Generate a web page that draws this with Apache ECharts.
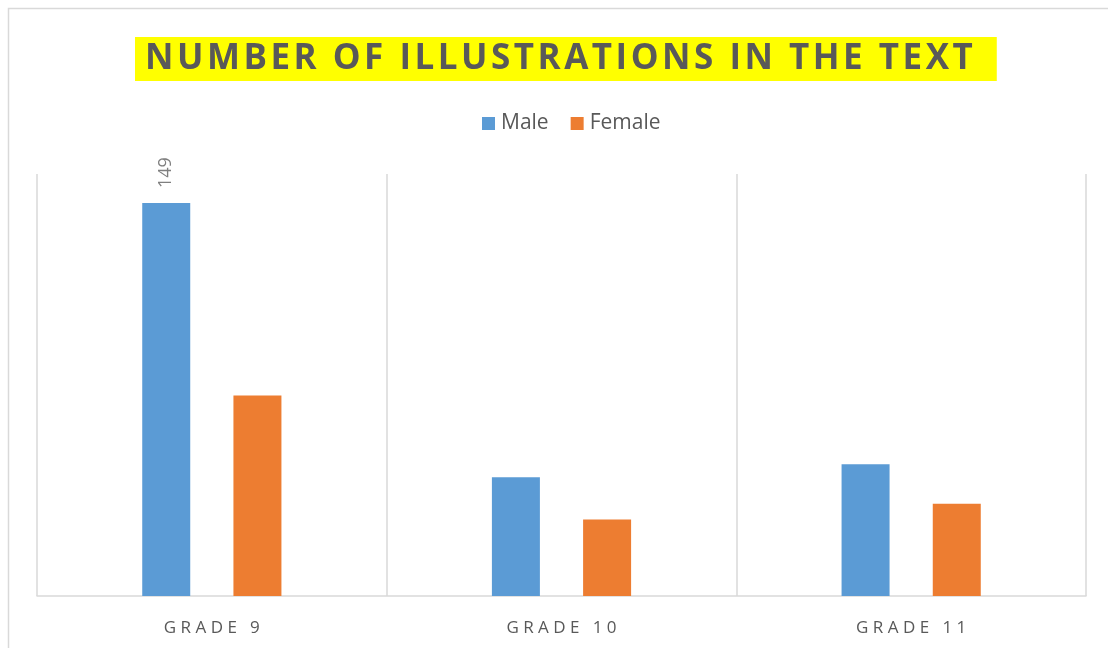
<!DOCTYPE html>
<html>
<head>
<meta charset="utf-8">
<title>Number of illustrations in the text</title>
<script src="https://cdn.jsdelivr.net/npm/echarts@6/dist/echarts.min.js"></script>
<style>
	html, body { margin: 0; padding: 0; background: #fff; }
	#chart { width: 1108px; height: 648px; }
</style>
</head>
<body>
<div id="chart"></div>
<script>
var titleText = 'NUMBER OF ILLUSTRATIONS IN THE TEXT';
var grades = ['GRADE 9', 'GRADE 10', 'GRADE 11'];
var maleCounts = [149, 45, 50];
var femaleCounts = [76, 29, 35];

// spread letters out like the original (canvas has no letter-spacing)
function spaced(s, gap) {
	return s.split('').join(gap);
}

var myChart = echarts.init(document.getElementById('chart'));
var option = {
	backgroundColor: '#fff',
	graphic: [{
		type: 'rect',
		shape: { x: 8.5, y: 8.5, width: 1200, height: 700 },
		style: { fill: 'none', stroke: '#d9d9d9', lineWidth: 1.5 },
		silent: true
	}],
	title: {
		text: spaced(titleText, '\u200A'),
		left: 135,
		top: 37,
		backgroundColor: '#ffff00',
		padding: [4, 24, 4, 10],
		textStyle: {
			fontFamily: 'Open Sans',
			fontWeight: 'bold',
			fontSize: 35,
			lineHeight: 36,
			color: '#595959'
		}
	},
	legend: {
		top: 108,
		left: 477,
		itemWidth: 13,
		itemHeight: 13,
		itemGap: 22,
		icon: 'rect',
		textStyle: { fontFamily: 'Open Sans', fontSize: 21, color: '#595959', padding: [0, 0, 0, 1] },
		data: ['Male', 'Female']
	},
	grid: { left: 37, right: 22, top: 174, bottom: 52 },
	xAxis: {
		type: 'category',
		data: grades,
		axisLine: { lineStyle: { color: '#d9d9d9', width: 1.5 } },
		axisTick: { show: false },
		splitLine: { show: true, lineStyle: { color: '#d9d9d9', width: 1.5 } },
		axisLabel: {
			margin: 24,
			fontFamily: 'Open Sans',
			fontSize: 17,
			color: '#595959',
			formatter: function(v) { return spaced(v, ' '); }
		}
	},
	yAxis: {
		type: 'value',
		min: 0,
		max: 160,
		axisLine: { show: false },
		axisTick: { show: false },
		axisLabel: { show: false },
		splitLine: { show: false }
	},
	series: [{
		name: 'Male',
		type: 'bar',
		barWidth: 48,
		barGap: '90%',
		itemStyle: { color: '#5b9bd5' },
		data: maleCounts.map(function(v, i) {
			return i === 0 ? {
				value: v,
				label: {
					show: true,
					position: 'top',
					rotate: 90,
					align: 'left',
					verticalAlign: 'middle',
					distance: 15,
					fontFamily: 'Open Sans',
					fontSize: 18,
					color: '#7f7f7f'
				}
			} : v;
		})
	}, {
		name: 'Female',
		type: 'bar',
		barWidth: 48,
		barGap: '90%',
		itemStyle: { color: '#ed7d31' },
		data: femaleCounts
	}]
};
myChart.setOption(option);
</script>
</body>
</html>
